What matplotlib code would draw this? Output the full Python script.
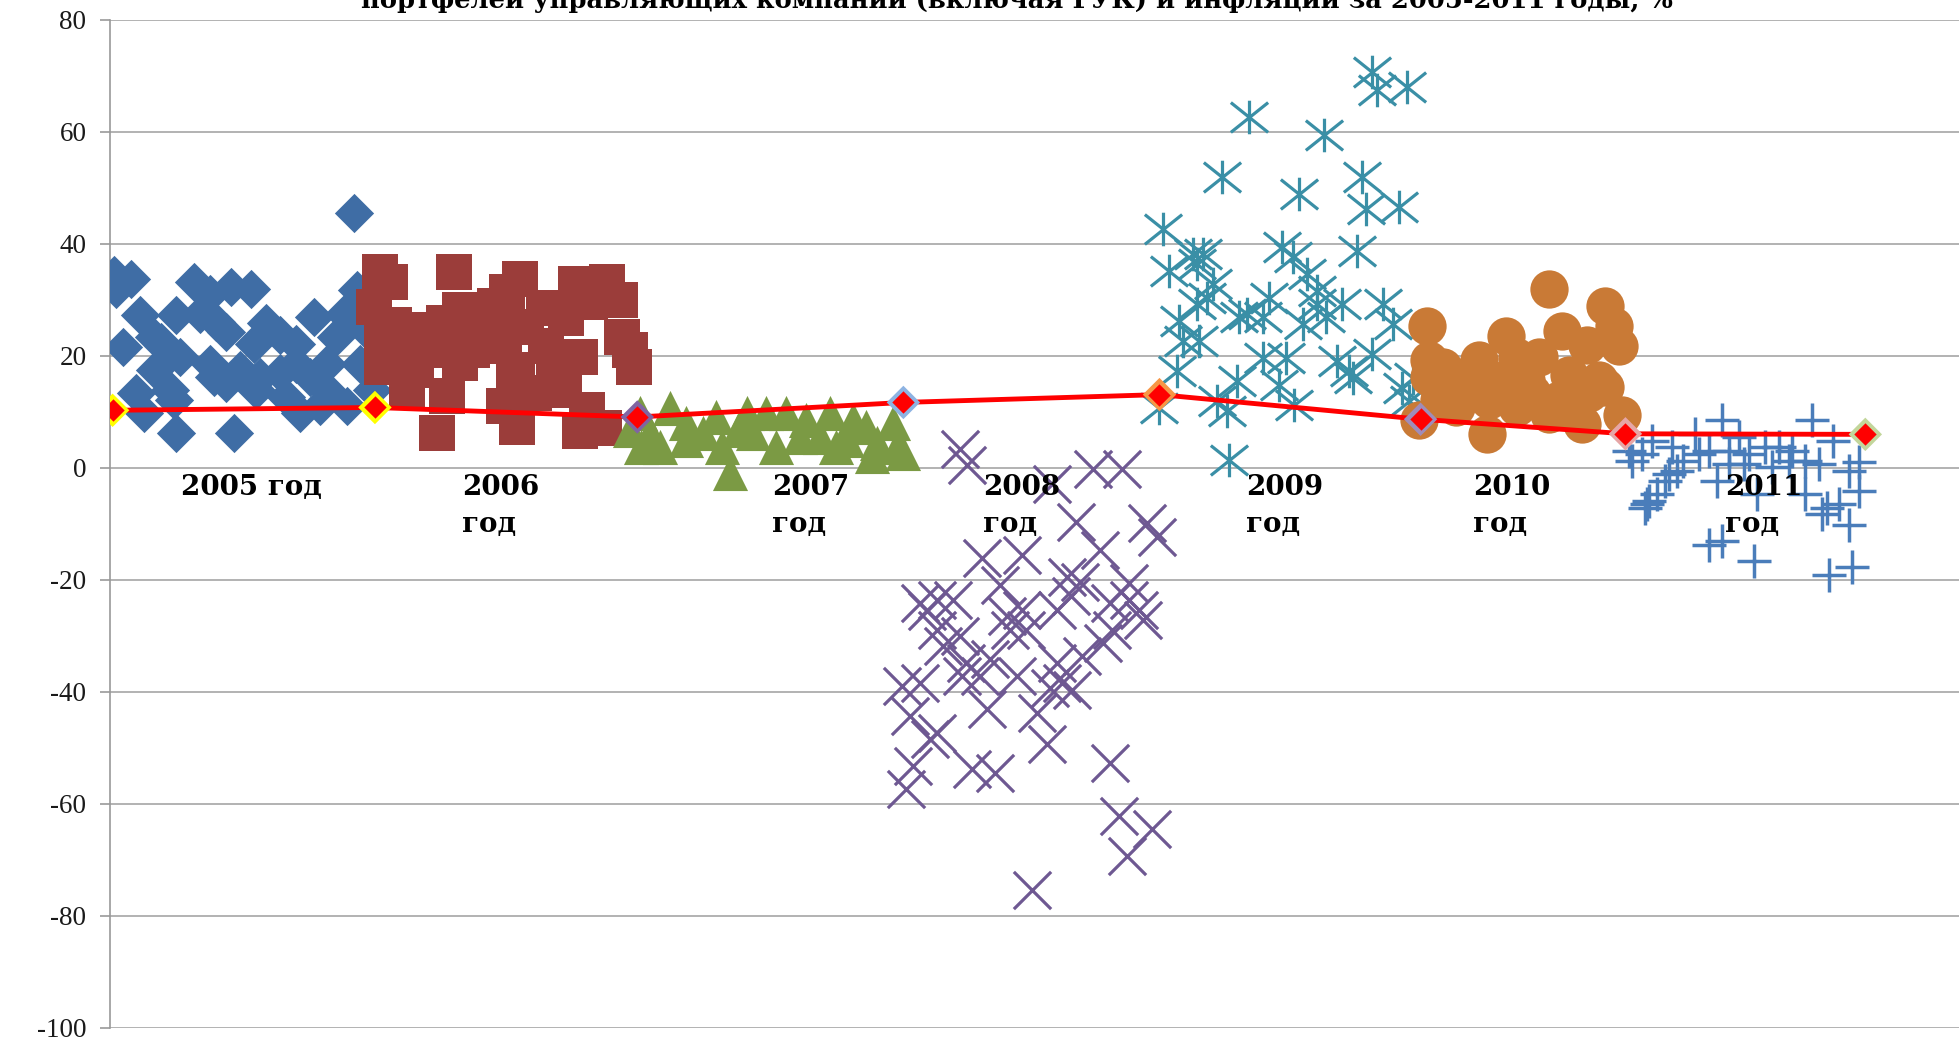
import matplotlib
matplotlib.use("Agg")
import matplotlib.pyplot as plt
from matplotlib.path import Path

# returns of management company portfolios, %, by year (x = company position on chart)
x2005 = [19.5, 0.3, 1.7, 0.5, 6.7, 8.0, 9.7, 11.3, 2.4, 5.3, 7.2, 8.5, 16.3, 18.7, 19.8, 3.5, 4.1, 1.0,
         9.3, 12.5, 13.6, 14.9, 18.1, 20.5, 11.5, 3.6, 5.6, 8.0, 8.3, 10.4, 12.0, 13.6, 16.0, 17.4, 20.0,
         4.8, 5.1, 2.1, 2.7, 11.7, 14.1, 15.2, 16.8, 19.0, 17.6, 21.0, 5.3, 9.9, 14.9, 9.3]
y2005 = [45.5, 34.4, 33.8, 32.0, 33.2, 31.1, 32.3, 32.0, 27.3, 27.3, 27.5, 26.0, 27.0, 27.5, 31.7, 23.4, 22.5, 21.6,
         24.3, 25.8, 23.7, 22.2, 23.4, 24.6, 22.2, 17.5, 19.8, 18.6, 16.3, 17.5, 16.3, 16.9, 16.3, 18.6, 18.6,
         13.9, 12.1, 13.3, 9.8, 13.9, 12.7, 9.8, 11.0, 11.0, 13.3, 13.9, 6.2, 6.2, 18.6, 15.1]

x2006 = [21.6, 22.4, 27.5, 32.8, 31.8, 37.3, 39.8, 40.8, 38.4, 30.8, 28.0, 34.7, 36.5, 21.1, 22.7, 24.5,
         26.7, 28.8, 31.2, 33.3, 41.0, 41.6, 23.5, 26.4, 29.0, 31.5, 34.9, 37.6, 41.9, 21.8, 24.5, 28.0,
         32.6, 35.5, 23.8, 27.0, 33.9, 36.3, 31.5, 38.2, 32.6, 26.2, 37.6, 39.5, 24.2, 29.7, 32.3, 21.8]
y2006 = [35.0, 33.2, 35.0, 33.8, 31.4, 32.9, 33.2, 30.0, 29.6, 29.0, 28.2, 28.5, 26.7, 28.8, 25.5, 24.6,
         25.8, 24.6, 25.2, 25.2, 23.4, 21.1, 21.7, 21.1, 21.1, 21.7, 21.7, 19.9, 18.1, 18.1, 17.5, 18.7,
         17.5, 16.9, 14.0, 12.8, 13.4, 14.0, 11.0, 10.4, 7.4, 6.3, 6.6, 7.2, 22.8, 22.8, 16.3, 22.8]

x2007 = [42.4, 44.8, 43.2, 42.5, 44.0, 46.1, 49.6, 48.5, 47.5, 49.0, 51.0, 52.5, 51.5, 53.3, 54.1, 55.7,
         55.2, 57.6, 56.8, 58.1, 59.5, 60.5, 61.4, 62.7, 63.0, 61.0, 63.5, 41.6, 59.0, 50.3, 46.1]
y2007 = [9.8, 10.7, 6.2, 3.8, 3.8, 5.0, -0.9, 9.1, 6.2, 3.8, 9.8, 9.8, 6.2, 3.8, 9.8, 8.6,
         5.6, 9.8, 5.6, 3.8, 8.6, 7.4, 4.4, 8.0, 3.8, 2.1, 2.6, 6.8, 5.0, 6.8, 8.0]

x2008 = [68.0, 68.6, 75.4, 78.7, 81.0, 77.3, 83.0, 83.8, 69.8, 73.0, 79.2, 71.2, 76.6, 77.6, 81.6, 64.8,
         66.2, 67.5, 65.4, 71.8, 73.0, 75.8, 80.0, 81.6, 82.4, 82.7, 66.2, 66.7, 72.0, 80.2, 79.5, 68.5,
         70.4, 75.8, 77.8, 68.2, 69.6, 72.6, 63.4, 64.8, 75.2, 76.2, 77.0, 70.2, 74.2, 64.0, 66.2, 65.6,
         75.0, 64.3, 69.0, 70.8, 63.7, 80.0, 80.8, 83.4, 81.4, 73.8, 68.0, 73.3, 76.9]
y2008 = [3.4, 0.5, -2.8, -0.1, -0.1, -9.6, -9.9, -12.3, -16.1, -15.5, -14.6, -20.9, -19.4, -20.3, -20.6, -24.1,
         -23.5, -23.5, -25.6, -26.5, -25.3, -25.3, -24.1, -23.5, -25.3, -27.1, -28.9, -31.8, -28.9, -28.9, -31.3, -34.8,
         -34.2, -34.8, -33.6, -37.2, -37.2, -37.2, -39.0, -38.4, -39.3, -38.4, -39.6, -43.1, -43.7, -44.3, -47.3, -48.4,
         -49.3, -53.2, -53.8, -54.4, -57.3, -52.6, -62.1, -64.5, -69.2, -75.4, -30.0, -28.9, -22.9]

x2009 = [101.0, 101.4, 103.8, 91.2, 97.2, 89.0, 95.2, 100.2, 100.5, 103.2, 84.3, 99.8, 93.8, 94.7, 84.8,
         86.7, 87.5, 87.0, 95.8, 88.3, 87.0, 87.8, 92.8, 96.6, 96.6, 98.6, 90.4, 91.0, 92.3, 101.9, 102.7,
         85.6, 95.5, 97.3, 85.9, 87.2, 92.3, 94.1, 98.2, 101.0, 99.2, 99.5, 85.4, 90.2, 93.6, 103.4, 104.0,
         84.0, 88.6, 89.4, 94.8, 89.6, 104.3]
y2009 = [70.7, 67.5, 68.1, 62.7, 59.4, 51.9, 49.0, 51.9, 46.3, 46.6, 42.7, 38.8, 39.4, 37.6, 35.2,
         38.2, 38.2, 36.4, 34.6, 32.8, 29.3, 30.4, 30.4, 31.6, 29.3, 29.3, 26.9, 27.5, 26.9, 29.3, 25.7,
         26.3, 25.7, 26.9, 22.7, 22.7, 19.7, 19.7, 19.1, 20.3, 17.3, 16.1, 17.3, 15.5, 14.9, 14.3, 11.9,
         10.7, 11.9, 10.2, 11.3, 1.5, 16.1]

x2010 = [115.2, 105.4, 111.7, 116.2, 119.7, 120.4, 120.8, 118.2, 112.6, 114.4, 105.6, 106.7, 109.6, 107.7,
         105.6, 111.5, 116.8, 119.2, 108.8, 106.4, 110.4, 113.8, 116.0, 118.4, 107.7, 112.6, 115.2, 121.0,
         104.8, 117.8, 110.2, 117.3, 119.7, 113.3]
y2010 = [31.9, 25.3, 23.5, 24.4, 28.9, 25.3, 21.7, 22.0, 19.9, 19.9, 19.3, 18.1, 19.3, 16.3,
         16.3, 15.7, 16.6, 15.7, 14.5, 12.1, 12.1, 13.3, 12.1, 13.3, 10.9, 10.9, 9.7, 9.4,
         8.5, 7.9, 6.1, 15.1, 14.5, 15.7]

x2011 = [129.0, 136.2, 121.6, 123.4, 121.8, 122.6, 125.0, 126.9, 127.2, 128.0, 129.6, 130.4, 131.2, 132.5,
         133.6, 134.6, 135.7, 136.8, 137.9, 140.0, 139.2, 129.6, 125.4, 124.8, 124.5, 128.6, 133.0, 131.8,
         135.7, 140.0, 123.8, 123.2, 122.9, 123.0, 137.4, 138.4, 137.0, 139.2, 128.0, 129.0, 131.6, 137.6,
         139.4, 134.4, 125.9, 130.8]
y2011 = [8.5, 8.5, 3.1, 4.9, 1.3, 2.5, 3.7, 6.1, 2.5, 3.1, 3.1, 5.5, 2.5, 3.7,
         3.7, 3.1, 1.3, 0.7, 4.9, 1.0, -0.5, 0.7, -0.5, -1.1, -2.3, -2.3, 0.1, -4.7,
         -4.7, -4.1, -4.7, -5.9, -7.1, -6.5, -7.1, -6.5, -8.3, -10.1, -13.7, -13.1, -16.7, -19.1,
         -17.6, 1.3, 1.3, 0.7]

# inflation
infl_x = [0.2, 21.2, 42.2, 63.5, 84.0, 104.9, 121.3, 140.5]
infl_y = [10.3, 10.8, 9.1, 11.7, 13.1, 8.7, 6.1, 6.0]
halo_colors = ['#FFFF00', '#FFFF00', '#8064A2', '#8DB3E2', '#F79646', '#A08CB8', '#E6A6A6', '#C3D69B']

year_labels = ['2005 год', '2006\nгод', '2007\nгод', '2008\nгод', '2009\nгод', '2010\nгод', '2011\nгод']
label_x = [5.7, 28.2, 53.0, 69.9, 90.9, 109.1, 129.3]

yticks = [-100, -80, -60, -40, -20, 0, 20, 40, 60, 80]

title = 'портфелей управляющих компаний (включая ГУК) и инфляции за 2005-2011 годы, %'

# asterisk marker like Excel: X with a vertical bar
star = Path([(-0.5, -0.4), (0.5, 0.4), (-0.5, 0.4), (0.5, -0.4), (0, -0.45), (0, 0.45)],
            [Path.MOVETO, Path.LINETO, Path.MOVETO, Path.LINETO, Path.MOVETO, Path.LINETO])

fig = plt.figure(figsize=(19.59, 10.39), dpi=100)
ax = fig.add_axes([0.0562, 0.0106, 0.9438, 0.9702])

ax.scatter(x2005, y2005, marker='D', s=400, color='#3F6DA5', linewidths=0, zorder=3)
ax.scatter(x2006, y2006, marker='s', s=680, color='#9B3D3A', linewidths=0, zorder=3)
ax.scatter(x2007, y2007, marker='^', s=640, color='#7B9A44', linewidths=0, zorder=3)
ax.scatter(x2008, y2008, marker='x', s=720, color='#6E5892', linewidths=2.3, zorder=3)
ax.scatter(x2009, y2009, marker=star, s=720, color='#3A8FA6', linewidths=2.3, zorder=3)
ax.scatter(x2010, y2010, marker='o', s=760, color='#C97A36', linewidths=0, zorder=3)
ax.scatter(x2011, y2011, marker='+', s=620, color='#4A7DBA', linewidths=2.5, zorder=3)

# inflation line
ax.plot(infl_x, infl_y, color='#FF0000', lw=3.5, zorder=5)
ax.scatter(infl_x, infl_y, marker='D', s=290, color=halo_colors, linewidths=0, zorder=6)
ax.scatter(infl_x, infl_y, marker='D', s=130, color='#FF0000', linewidths=0, zorder=7)

for lbl, lx in zip(year_labels, label_x):
    ax.text(lx, -1.0, lbl, ha='left', va='top', fontsize=20, fontweight='bold',
            family='DejaVu Serif', linespacing=1.5, color='black', zorder=8)

fig.text(0.519, 1 - 8 / 1039, title, ha='center', va='baseline', fontsize=18.5,
         fontweight='bold', family='DejaVu Serif', color='black')

ax.set_xlim(0, 148)
ax.set_ylim(-100, 80)
ax.set_yticks(yticks)
ax.set_yticklabels([str(t) for t in yticks], family='Liberation Serif', fontsize=19.5, color='#1a1a1a')
ax.set_xticks([])
ax.yaxis.grid(True, color='#A6A6A6', lw=1.2)
ax.set_axisbelow(True)
for side in ['top', 'right', 'bottom']:
    ax.spines[side].set_visible(False)
ax.spines['left'].set_color('#999999')
ax.spines['left'].set_linewidth(1.2)
ax.tick_params(axis='y', direction='out', length=7, width=1.2, color='#999999', pad=10)

fig.savefig('out.png', dpi=100)
